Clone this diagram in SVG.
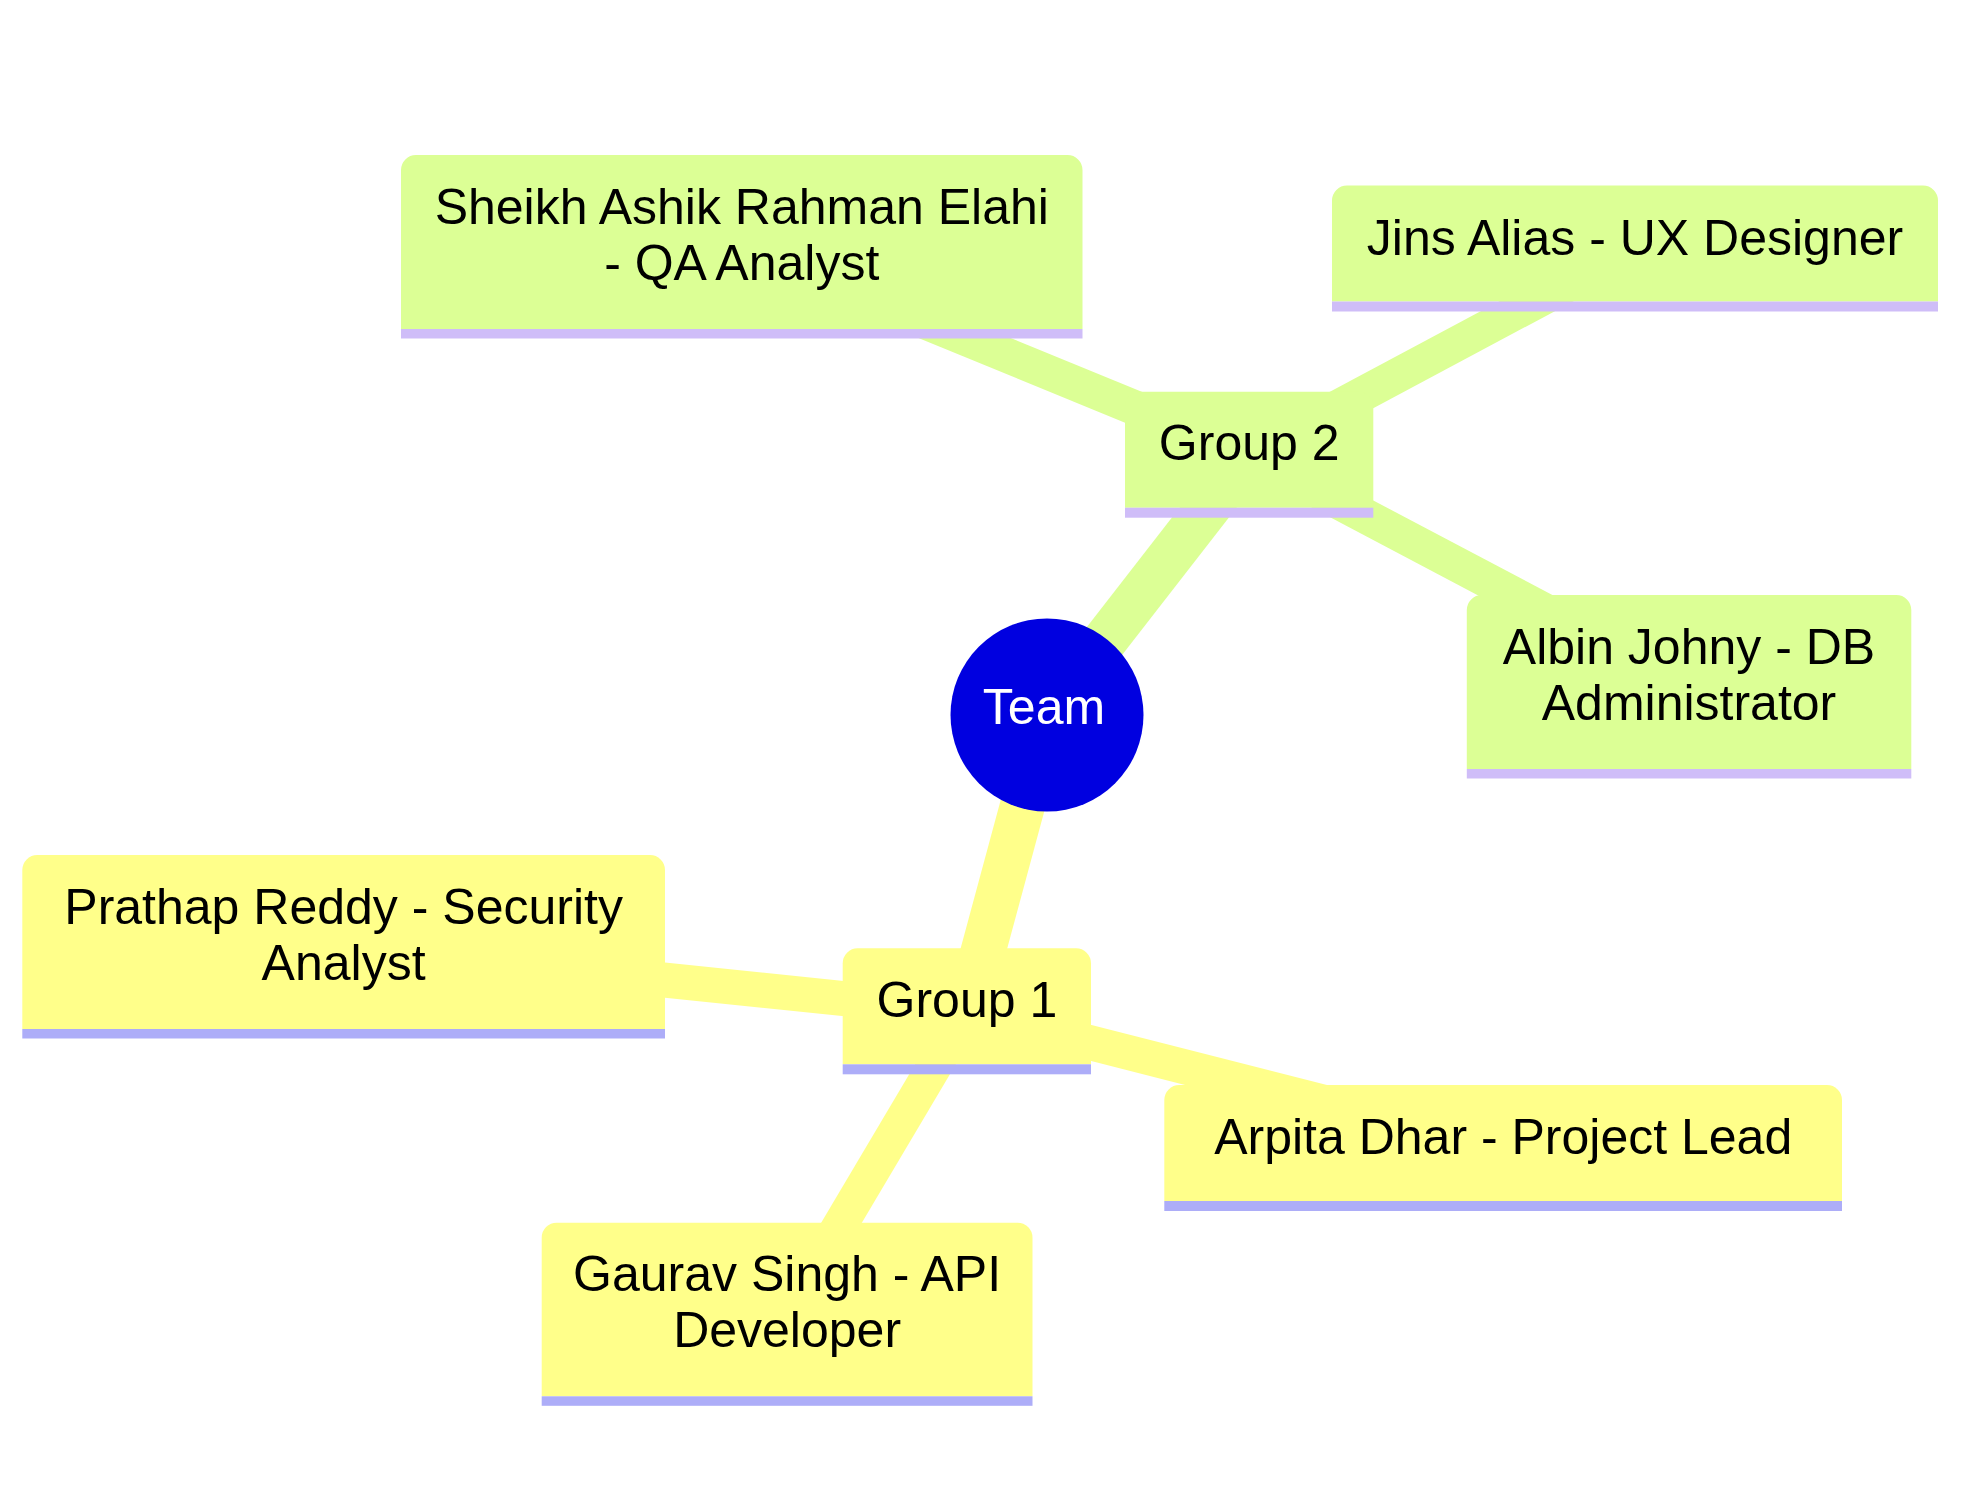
<svg xmlns="http://www.w3.org/2000/svg" width="1968" height="1494" viewBox="0 0 1968 1494">
  <style>
    .edge { fill: none; stroke-linecap: butt; }
    .e-root { stroke-width: 45; }
    .e-child { stroke-width: 35; }
    .sec0 { stroke: #FFFF8A; }
    .sec1 { stroke: #DCFF95; }
    .fill0 { fill: #FFFF8A; }
    .fill1 { fill: #DCFF95; }
    .band0 { fill: #ADADF8; }
    .band1 { fill: #CFBDF8; }
    .label { font-family: "Liberation Sans", Arial, sans-serif; font-size: 50px; fill: #000000; text-anchor: middle; }
    .root-label { font-family: "Liberation Sans", Arial, sans-serif; font-size: 50px; fill: #FFFFFF; text-anchor: middle; }
  </style>
  <rect x="0" y="0" width="1968" height="1494" fill="#FFFFFF"/>

  <g id="connectors">
    <line class="edge e-root sec1" x1="1047" y1="715" x2="1249.2" y2="454.7"/>
    <line class="edge e-root sec0" x1="1047" y1="715" x2="966.9" y2="1011.3"/>
    <line class="edge e-child sec1" x1="1249.2" y1="454.7" x2="741.75" y2="246.7"/>
    <line class="edge e-child sec1" x1="1249.2" y1="454.7" x2="1635" y2="248.5"/>
    <line class="edge e-child sec1" x1="1249.2" y1="454.7" x2="1689" y2="687"/>
    <line class="edge e-child sec0" x1="966.9" y1="1011.3" x2="343.6" y2="947"/>
    <line class="edge e-child sec0" x1="966.9" y1="1011.3" x2="1503.2" y2="1148"/>
    <line class="edge e-child sec0" x1="966.9" y1="1011.3" x2="787.1" y2="1314.5"/>
  </g>

  <g id="node-team">
    <circle cx="1047" cy="715" r="96.5" fill="#0000E0"/>
    <text class="root-label" x="1044" y="724">Team</text>
  </g>

  <g id="node-group2">
    <path class="fill1" d="M1125,507.7 V406.7 A15,15 0 0 1 1140,391.7 H1358.3 A15,15 0 0 1 1373.3,406.7 V507.7 Z"/>
    <rect class="band1" x="1125" y="507.7" width="248.3" height="10"/>
    <text class="label" x="1249.2" y="460">Group 2</text>
  </g>

  <g id="node-sheikh">
    <path class="fill1" d="M401,329 V170 A15,15 0 0 1 416,155 H1067.5 A15,15 0 0 1 1082.5,170 V329 Z"/>
    <rect class="band1" x="401" y="329" width="681.5" height="9.5"/>
    <text class="label" x="741.75" y="224.3">Sheikh Ashik Rahman Elahi</text>
    <text class="label" x="741.75" y="280">- QA Analyst</text>
  </g>

  <g id="node-jins">
    <path class="fill1" d="M1332,301.5 V200.5 A15,15 0 0 1 1347,185.5 H1923 A15,15 0 0 1 1938,200.5 V301.5 Z"/>
    <rect class="band1" x="1332" y="301.5" width="606" height="10"/>
    <text class="label" x="1635" y="254.5">Jins Alias - UX Designer</text>
  </g>

  <g id="node-albin">
    <path class="fill1" d="M1466.8,769 V610 A15,15 0 0 1 1481.8,595 H1896.3 A15,15 0 0 1 1911.3,610 V769 Z"/>
    <rect class="band1" x="1466.8" y="769" width="444.5" height="9.5"/>
    <text class="label" x="1689" y="664">Albin Johny - DB</text>
    <text class="label" x="1689" y="720">Administrator</text>
  </g>

  <g id="node-group1">
    <path class="fill0" d="M842.7,1064.3 V963.3 A15,15 0 0 1 857.7,948.3 H1076 A15,15 0 0 1 1091,963.3 V1064.3 Z"/>
    <rect class="band0" x="842.7" y="1064.3" width="248.3" height="10"/>
    <text class="label" x="966.9" y="1017.3">Group 1</text>
  </g>

  <g id="node-prathap">
    <path class="fill0" d="M22.3,1029 V870 A15,15 0 0 1 37.3,855 H650 A15,15 0 0 1 665,870 V1029 Z"/>
    <rect class="band0" x="22.3" y="1029" width="642.7" height="9.5"/>
    <text class="label" x="343.6" y="924.3">Prathap Reddy - Security</text>
    <text class="label" x="343.6" y="980">Analyst</text>
  </g>

  <g id="node-arpita">
    <path class="fill0" d="M1164.3,1201 V1100 A15,15 0 0 1 1179.3,1085 H1827 A15,15 0 0 1 1842,1100 V1201 Z"/>
    <rect class="band0" x="1164.3" y="1201" width="677.7" height="10"/>
    <text class="label" x="1503.2" y="1154.3">Arpita Dhar - Project Lead</text>
  </g>

  <g id="node-gaurav">
    <path class="fill0" d="M541.7,1396.3 V1237.7 A15,15 0 0 1 556.7,1222.7 H1017.5 A15,15 0 0 1 1032.5,1237.7 V1396.3 Z"/>
    <rect class="band0" x="541.7" y="1396.3" width="490.8" height="9.5"/>
    <text class="label" x="787.1" y="1290.7">Gaurav Singh - API</text>
    <text class="label" x="787.1" y="1347.3">Developer</text>
  </g>
</svg>
